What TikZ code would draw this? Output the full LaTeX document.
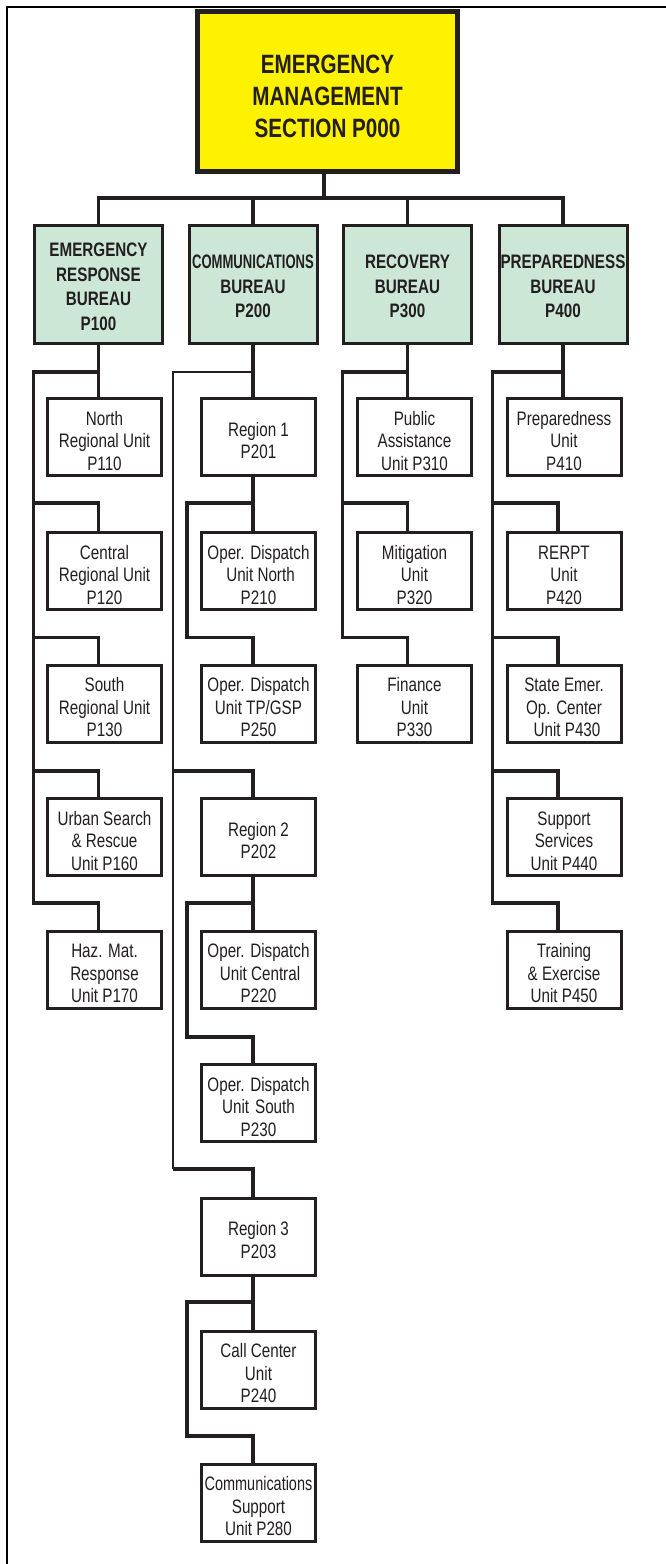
\documentclass[tikz,border=0pt]{standalone}
\usepackage{fontspec}
\usepackage{graphicx}
\setmainfont{Liberation Sans}[FakeStretch=0.78]
\usetikzlibrary{calc}
\definecolor{ink}{HTML}{231F20}
\definecolor{topyellow}{RGB}{255,242,0}
\definecolor{bureaugreen}{RGB}{205,231,214}
% multi-line text block, lowered by #1 without changing the node geometry
\newcommand{\txtlines}[2]{\raisebox{-#1}[\height][\depth]{\begin{tabular}{@{}c@{}}#2\end{tabular}}}
\newcommand{\unittxt}[1]{\txtlines{6pt}{#1}}
\newcommand{\burtxt}[1]{\txtlines{4pt}{#1}}
\newcommand{\toptxt}[1]{\txtlines{7.5pt}{#1}}
\tikzset{
  unitbox/.style={draw=ink, line width=3pt, fill=white, minimum width=114pt, minimum height=77pt,
    inner sep=0pt, outer sep=0pt, text=ink, font=\fontsize{19.5}{22.5}\selectfont},
  bureaubox/.style={draw=ink, line width=3pt, fill=bureaugreen, minimum width=128pt, minimum height=118pt,
    inner sep=0pt, outer sep=0pt, text=ink, font=\bfseries\fontsize{19.5}{24.5}\selectfont},
  topbox/.style={draw=ink, line width=5pt, fill=topyellow, minimum width=260pt, minimum height=160pt,
    inner sep=0pt, outer sep=0pt, text=ink, font=\bfseries\fontsize{26.5}{32}\selectfont},
  conn/.style={draw=ink, line width=3.3pt},
  thinconn/.style={draw=ink, line width=2.2pt},
  frameline/.style={draw=black, line width=2pt}
}
\begin{document}
\begin{tikzpicture}[x=1pt,y=-1pt]
\useasboundingbox (0,0) rectangle (666,1564);
\draw[frameline] (7.3,1564) -- (7.3,6.7) -- (666,6.7);

% top
\node[topbox] (top) at (327.5,91.5) {\toptxt{EMERGENCY\\MANAGEMENT\\SECTION P000}};
% bureaus
\node[bureaubox] (b1) at (98.5,284.5) {\burtxt{EMERGENCY\\RESPONSE\\BUREAU\\P100}};
\node[bureaubox] (b2) at (253,284.5) {\burtxt{\scalebox{0.86}[1]{COMMUNICATIONS}\\BUREAU\\P200}};
\node[bureaubox] (b3) at (407.5,284.5) {\burtxt{RECOVERY\\BUREAU\\P300}};
\node[bureaubox] (b4) at (563,284.5) {\burtxt{PREPAREDNESS\\BUREAU\\P400}};

% column 1
\node[unitbox] (c110) at (104.5,437) {\unittxt{North\\Regional Unit\\P110}};
\node[unitbox] (c120) at (104.5,571) {\unittxt{Central\\Regional Unit\\P120}};
\node[unitbox] (c130) at (104.5,703.5) {\unittxt{South\\Regional Unit\\P130}};
\node[unitbox] (c160) at (104.5,837) {\unittxt{Urban Search\\\& Rescue\\Unit P160}};
\node[unitbox] (c170) at (104.5,969.5) {\unittxt{Haz. Mat.\\Response\\Unit P170}};

% column 2
\node[unitbox] (r1) at (258.5,437) {\unittxt{Region 1\\P201}};
\node[unitbox] (c210) at (258.5,571) {\unittxt{Oper. Dispatch\\\hspace{4pt}Unit North\\P210}};
\node[unitbox] (c250) at (258.5,703.5) {\unittxt{Oper. Dispatch\\Unit TP/GSP\\P250}};
\node[unitbox] (r2) at (258.5,837) {\unittxt{Region 2\\P202}};
\node[unitbox] (c220) at (258.5,969.5) {\unittxt{Oper. Dispatch\\\hspace{3pt}Unit Central\\P220}};
\node[unitbox] (c230) at (258.5,1103) {\unittxt{Oper. Dispatch\\Unit\hspace{6pt}South\\P230}};
\node[unitbox] (r3) at (258.5,1236.5) {\unittxt{Region 3\\P203}};
\node[unitbox] (c240) at (258.5,1369.5) {\unittxt{Call Center\\Unit\\P240}};
\node[unitbox] (c280) at (258.5,1502.5) {\unittxt{\scalebox{0.95}[1]{Communications}\\Support\\Unit P280}};

% column 3
\node[unitbox] (c310) at (414.5,437) {\unittxt{Public\\Assistance\\Unit P310}};
\node[unitbox] (c320) at (414.5,571) {\unittxt{Mitigation\\Unit\\P320}};
\node[unitbox] (c330) at (414.5,703.5) {\unittxt{Finance\\Unit\\P330}};

% column 4
\node[unitbox] (c410) at (564,437) {\unittxt{Preparedness\\Unit\\P410}};
\node[unitbox] (c420) at (564,571) {\unittxt{RERPT\\Unit\\P420}};
\node[unitbox] (c430) at (564,703.5) {\unittxt{State Emer.\\Op. Center\\\hspace{6pt}Unit P430}};
\node[unitbox] (c440) at (564,837) {\unittxt{Support\\Services\\Unit P440}};
\node[unitbox] (c450) at (564,969.5) {\unittxt{Training\\\& Exercise\\Unit P450}};

% top connectors
\coordinate (j0) at (324,198);
\draw[conn] (top.south -| j0) -- (j0);
\draw[conn] (b1.north) |- (j0) -| (b4.north);
\draw[conn] (b2.north) -- (b2.north |- j0);
\draw[conn] (b3.north) -- (b3.north |- j0);

% column 1 connectors
\coordinate (s1a) at (33.7,372);
\coordinate (s1b) at (33.7,503);
\coordinate (s1c) at (33.7,637.5);
\coordinate (s1d) at (33.7,771);
\coordinate (s1e) at (33.7,903);
\draw[conn] (b1.south) -- (b1.south |- c110.north);
\draw[conn] (b1.south |- s1a) -- (s1a) -- (s1e) -| (b1.south |- c170.north);
\draw[conn] (s1b) -| (b1.south |- c120.north);
\draw[conn] (s1c) -| (b1.south |- c130.north);
\draw[conn] (s1d) -| (b1.south |- c160.north);

% column 2 connectors
\coordinate (s2a) at (173.3,372);
\coordinate (s2d) at (173.3,771);
\coordinate (s2g) at (173.3,1169);
\draw[conn] (b2.south) -- (b2.south |- r1.north);
\draw[thinconn] (b2.south |- s2a) -- (s2a) -- (s2g);
\draw[conn] (s2d) -| (b2.south |- r2.north);
\draw[conn] (s2g) -| (b2.south |- r3.north);
% region 1
\coordinate (t1a) at (187,503);
\coordinate (t1b) at (187,637.5);
\draw[conn] (b2.south |- r1.south) -- (b2.south |- c210.north);
\draw[conn] (b2.south |- t1a) -- (t1a) -- (t1b) -| (b2.south |- c250.north);
% region 2
\coordinate (t2a) at (187,903);
\coordinate (t2b) at (187,1037);
\draw[conn] (b2.south |- r2.south) -- (b2.south |- c220.north);
\draw[conn] (b2.south |- t2a) -- (t2a) -- (t2b) -| (b2.south |- c230.north);
% region 3
\coordinate (t3a) at (187,1302);
\coordinate (t3b) at (187,1436);
\draw[conn] (b2.south |- r3.south) -- (b2.south |- c240.north);
\draw[conn] (b2.south |- t3a) -- (t3a) -- (t3b) -| (b2.south |- c280.north);

% column 3 connectors
\coordinate (s3a) at (342.7,372);
\coordinate (s3b) at (342.7,503);
\coordinate (s3c) at (342.7,637.5);
\draw[conn] (b3.south) -- (b3.south |- c310.north);
\draw[conn] (b3.south |- s3a) -- (s3a) -- (s3c) -| (b3.south |- c330.north);
\draw[conn] (s3b) -| (b3.south |- c320.north);

% column 4 connectors
\coordinate (s4a) at (492.5,372);
\coordinate (s4b) at (492.5,503);
\coordinate (s4c) at (492.5,637.5);
\coordinate (s4d) at (492.5,771);
\coordinate (s4e) at (492.5,903);
\draw[conn] (b4.south) -- (b4.south |- c410.north);
\draw[conn] (b4.south |- s4a) -- (s4a) -- (s4e) -| ($(c450.north)+(-6,0)$);
\draw[conn] (s4b) -| ($(c420.north)+(-6,0)$);
\draw[conn] (s4c) -| ($(c430.north)+(-6,0)$);
\draw[conn] (s4d) -| ($(c440.north)+(-6,0)$);
\end{tikzpicture}
\end{document}
